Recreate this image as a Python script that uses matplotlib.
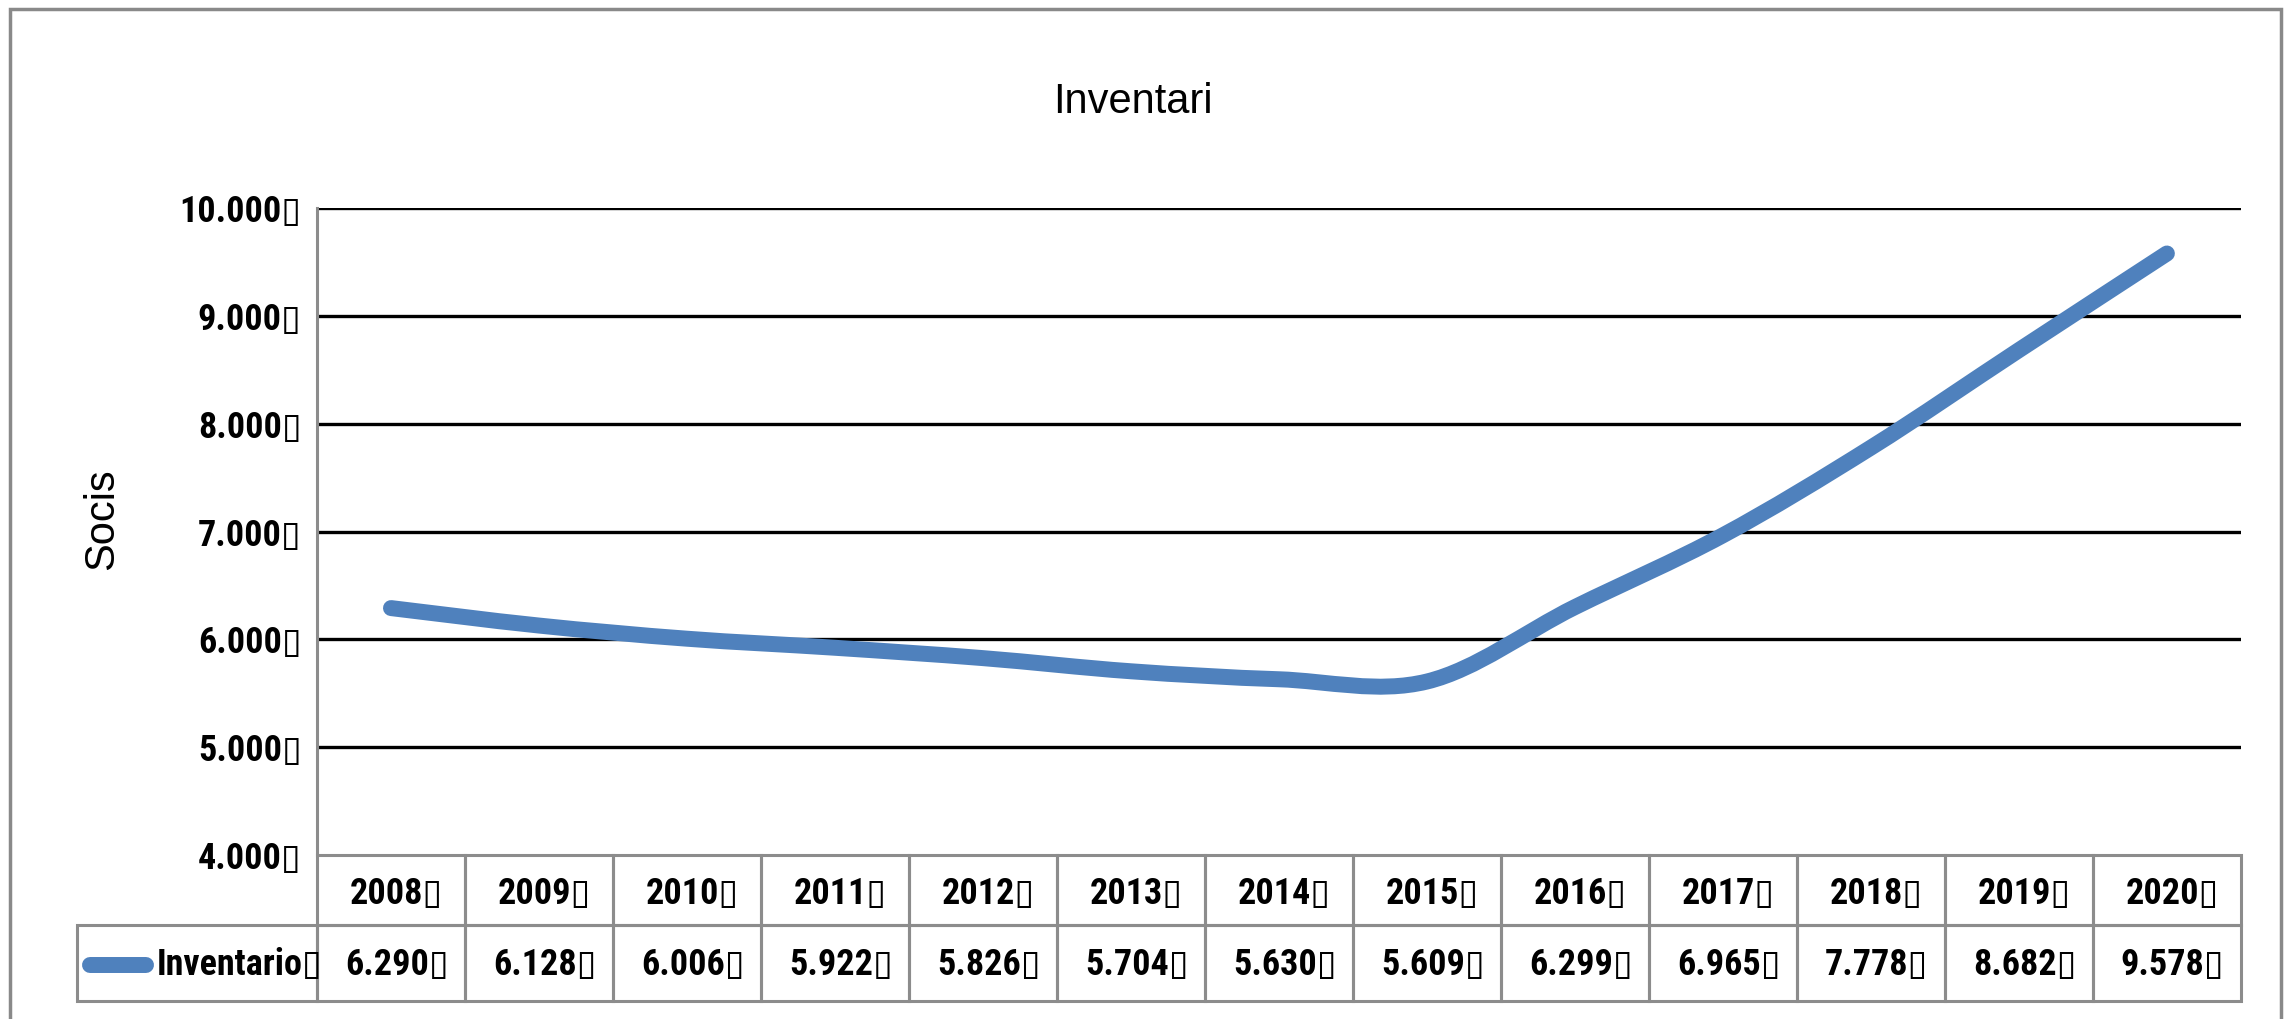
import matplotlib.pyplot as plt
import matplotlib.font_manager as fm
from matplotlib.path import Path
from matplotlib.patches import PathPatch, Rectangle
from matplotlib.lines import Line2D

anys = ["2008", "2009", "2010", "2011", "2012", "2013", "2014",
        "2015", "2016", "2017", "2018", "2019", "2020"]
inventario = [6290, 6128, 6006, 5922, 5826, 5704, 5630,
              5609, 6299, 6965, 7778, 8682, 9578]
serie = "Inventario"
yticks = [4000, 5000, 6000, 7000, 8000, 9000, 10000]

BOX = "\u25AF"  # quadret que surt darrere de cada numero a l'original
blau = '#4F81BD'
gris = '#8C8C8C'


def te_negreta(nom):
    for f in fm.fontManager.ttflist:
        if f.name == nom:
            w = f.weight if isinstance(f.weight, int) else fm.weight_dict.get(f.weight, 400)
            if w >= 600:
                return True
    return False


# lletra estreta i en negreta (com Calibri) si n'hi ha alguna
fnt, fs = ['DejaVu Sans'], 18
for nom, mida in [('Noto Sans ExtraCondensed', 30), ('Noto Sans Condensed', 27),
                  ('Liberation Sans Narrow', 27), ('Roboto Condensed', 26),
                  ('Noto Sans SemiCondensed', 25)]:
    if te_negreta(nom):
        fnt, fs = [nom, 'DejaVu Sans'], mida
        break


def fmt(v):
    return f"{v:,}".replace(",", ".")


def txt(x, y, s, **kw):
    ax.text(x, y, s, transform=ax.transAxes, va='center', family=fnt,
            fontweight='bold', fontsize=fs, **kw)


fig = plt.figure(figsize=(22.92, 10.19), dpi=100)
ax = fig.add_axes([0.1383, 0.1609, 0.8394, 0.6350])

n = len(anys)
xs = list(range(n))

# corba suavitzada (bezier tipus Excel)
verts = [(xs[0], inventario[0])]
codes = [Path.MOVETO]
for i in range(n - 1):
    x0, y0 = xs[max(i - 1, 0)], inventario[max(i - 1, 0)]
    x1, y1 = xs[i], inventario[i]
    x2, y2 = xs[i + 1], inventario[i + 1]
    x3, y3 = xs[min(i + 2, n - 1)], inventario[min(i + 2, n - 1)]
    verts += [(x1 + (x2 - x0) / 6, y1 + (y2 - y0) / 6),
              (x2 - (x3 - x1) / 6, y2 - (y3 - y1) / 6),
              (x2, y2)]
    codes += [Path.CURVE4] * 3
ax.add_patch(PathPatch(Path(verts, codes), fill=False, edgecolor=blau,
                       lw=11.5, capstyle='round', joinstyle='round', zorder=5))

ax.set_xlim(-0.5, n - 0.5)
ax.set_ylim(yticks[0], yticks[-1])
for t in yticks[1:]:
    ax.axhline(t, color='black', lw=2.4, zorder=2)
ax.set_yticks(yticks)
ax.set_yticklabels([fmt(t) + BOX for t in yticks], family=fnt, fontweight='bold',
                   fontsize=fs)
ax.tick_params(axis='y', length=0, pad=11)
ax.set_xticks([])
for s in ['top', 'right', 'bottom']:
    ax.spines[s].set_visible(False)
ax.spines['left'].set_color(gris)
ax.spines['left'].set_linewidth(2.2)

# taula de dades sota el grafic
h1 = 0.108
h2 = 0.2257
for i in range(n):
    ax.add_patch(Rectangle((i / n, -h1), 1 / n, h1, transform=ax.transAxes,
                           fill=False, ec=gris, lw=2.2, clip_on=False))
    ax.add_patch(Rectangle((i / n, -h2), 1 / n, h2 - h1, transform=ax.transAxes,
                           fill=False, ec=gris, lw=2.2, clip_on=False))
    txt((i + 0.5) / n + 0.003, -0.060, anys[i] + BOX, ha='center')
    txt((i + 0.5) / n + 0.003, -0.170, fmt(inventario[i]) + BOX, ha='center')
ax.add_patch(Rectangle((-0.1247, -h2), 0.1247, h2 - h1, transform=ax.transAxes,
                       fill=False, ec=gris, lw=2.2, clip_on=False))
ax.add_line(Line2D([-0.118, -0.0889], [-0.170, -0.170], transform=ax.transAxes,
                   color=blau, lw=11.5, solid_capstyle='round', clip_on=False))
txt(-0.0832, -0.170, serie + BOX, ha='left')

fig.text(1133 / 2292, 1 - 102 / 1019, "Inventari", ha='center', va='center',
         family='Liberation Sans', fontsize=30)
fig.text(102 / 2292, 1 - 519 / 1019, "Socis", ha='center', va='center',
         rotation=90, family='Liberation Sans', fontsize=30)

fig.patches.append(Rectangle((10 / 2292, -0.05), 2271 / 2292, 1.05 - 9 / 1019,
                             transform=fig.transFigure, fill=False,
                             ec='#898989', lw=2.5))

plt.savefig('out.png', dpi=100)
